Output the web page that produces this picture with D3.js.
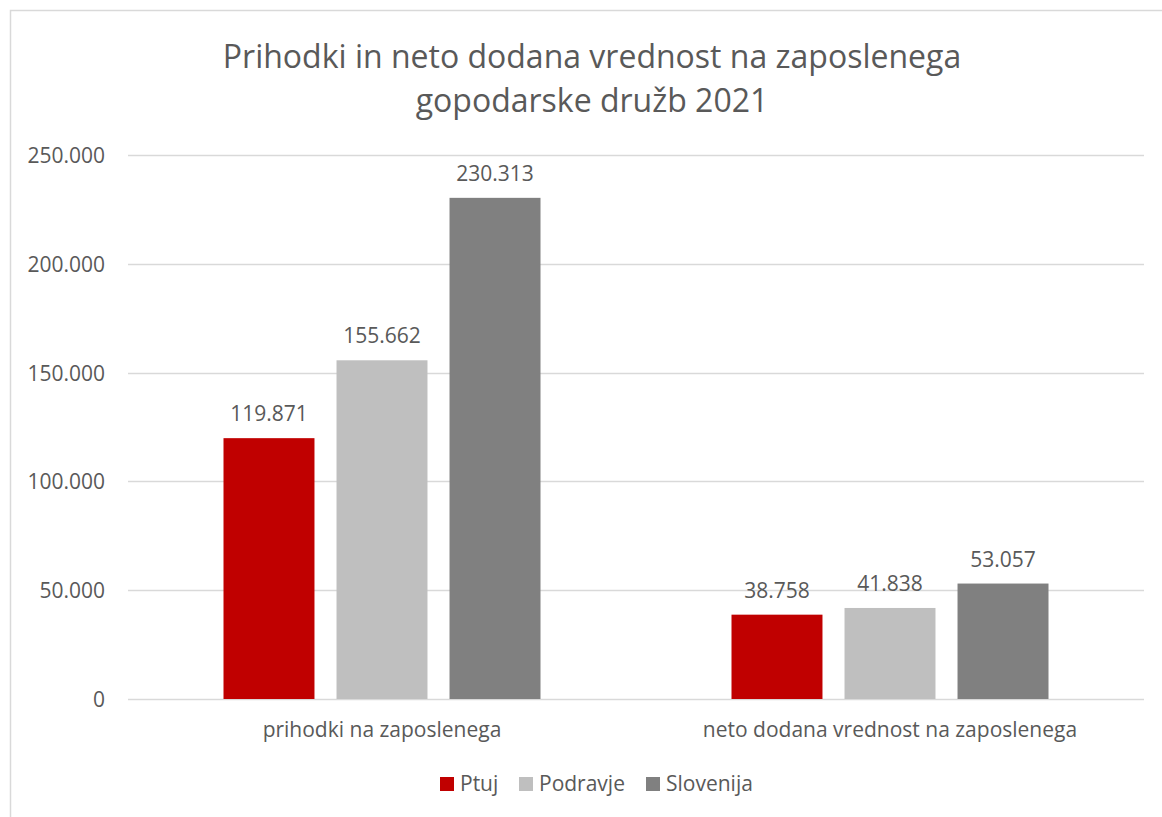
<!DOCTYPE html>
<meta charset="utf-8">
<script src="https://d3js.org/d3.v7.min.js"></script>
<style>
  body { margin: 0; background: #fff; }
  text { font-family: "Open Sans", sans-serif; fill: #595959; }
</style>
<div id="chart"></div>
<script>
  // data
  var categories = ["prihodki na zaposlenega", "neto dodana vrednost na zaposlenega"]
  var series = ["Ptuj", "Podravje", "Slovenija"]
  var ptuj = [119871, 38758]
  var podravje = [155662, 41838]
  var slovenija = [230313, 53057]
  var yTicks = [0, 50000, 100000, 150000, 200000, 250000]
  var titleLines = ["Prihodki in neto dodana vrednost na zaposlenega", "gopodarske družb 2021"]

  var colors = ["#C00000", "#BFBFBF", "#808080"]
  var values = [ptuj, podravje, slovenija]

  var width = 1162, height = 817
  var svg = d3.select("#chart").append("svg")
      .attr("width", width)
      .attr("height", height)

  // chart border (runs off the right and bottom edges)
  svg.append("rect")
      .attr("x", 10.5).attr("y", 10.5)
      .attr("width", width + 20).attr("height", height + 20)
      .attr("fill", "none")
      .attr("stroke", "#D9D9D9")
      .attr("stroke-width", 1.5)

  var plotLeft = 128, plotRight = 1144, plotTop = 155, plotBottom = 699

  var y = d3.scaleLinear().domain([0, 250000]).range([plotBottom, plotTop])
  var x0 = d3.scaleBand().domain(categories).range([plotLeft, plotRight]).padding(0)
  var groupW = 317
  var x1 = d3.scaleBand().domain(series)
      .range([(x0.bandwidth() - groupW) / 2, (x0.bandwidth() + groupW) / 2])
      .paddingInner(0.195).paddingOuter(0)

  var fmt = function(v){ return d3.format(",")(v).replace(/,/g, ".") }

  // gridlines
  svg.append("g").selectAll("line")
    .data(yTicks)
    .enter().append("line")
      .attr("x1", plotLeft).attr("x2", plotRight)
      .attr("y1", function(d){ return Math.round(y(d)) + 0.5 })
      .attr("y2", function(d){ return Math.round(y(d)) + 0.5 })
      .attr("stroke", "#D9D9D9")
      .attr("stroke-width", 1.5)

  // y axis labels
  var yAxis = d3.axisLeft(y).tickValues(yTicks).tickFormat(fmt).tickSize(0).tickPadding(0)
  var ya = svg.append("g").attr("transform", "translate(105,0)").call(yAxis)
  ya.select(".domain").remove()
  ya.selectAll("text")
      .style("font-family", "Open Sans, sans-serif")
      .style("font-size", "21px")
      .attr("fill", "#595959")
      .attr("dy", "0.36em")

  // bars
  var groups = svg.append("g").selectAll("g")
    .data(categories)
    .enter().append("g")
      .attr("transform", function(d){ return "translate(" + x0(d) + ",0)" })

  groups.each(function(cat, ci) {
    var g = d3.select(this)
    var rows = series.map(function(s, si){ return { s: s, v: values[si][ci], c: colors[si] } })
    g.selectAll("rect")
      .data(rows)
      .enter().append("rect")
        .attr("x", function(d){ return x1(d.s) })
        .attr("width", x1.bandwidth())
        .attr("y", function(d){ return y(d.v) })
        .attr("height", function(d){ return plotBottom - y(d.v) })
        .attr("fill", function(d){ return d.c })
    g.selectAll("text.val")
      .data(rows)
      .enter().append("text")
        .attr("class", "val")
        .attr("x", function(d){ return x1(d.s) + x1.bandwidth() / 2 })
        .attr("y", function(d){ return y(d.v) - 17 })
        .attr("text-anchor", "middle")
        .style("font-size", "21px")
        .text(function(d){ return fmt(d.v) })
  })

  // category labels
  svg.append("g").selectAll("text")
    .data(categories)
    .enter().append("text")
      .attr("x", function(d){ return x0(d) + x0.bandwidth() / 2 })
      .attr("y", 737)
      .attr("text-anchor", "middle")
      .style("font-size", "21px")
      .text(function(d){ return d })

  // title
  svg.append("g").selectAll("text")
    .data(titleLines)
    .enter().append("text")
      .attr("x", 592)
      .attr("y", function(d, i){ return 68 + i * 44 })
      .attr("text-anchor", "middle")
      .style("font-size", "32px")
      .text(function(d){ return d })

  // legend
  var legendX = [440, 519, 646]
  var legend = svg.append("g").selectAll("g")
    .data(series)
    .enter().append("g")
      .attr("transform", function(d, i){ return "translate(" + legendX[i] + ",777)" })
  legend.append("rect")
      .attr("width", 14).attr("height", 14)
      .attr("fill", function(d, i){ return colors[i] })
  legend.append("text")
      .attr("x", 20).attr("y", 14)
      .style("font-size", "21px")
      .text(function(d){ return d })
</script>
